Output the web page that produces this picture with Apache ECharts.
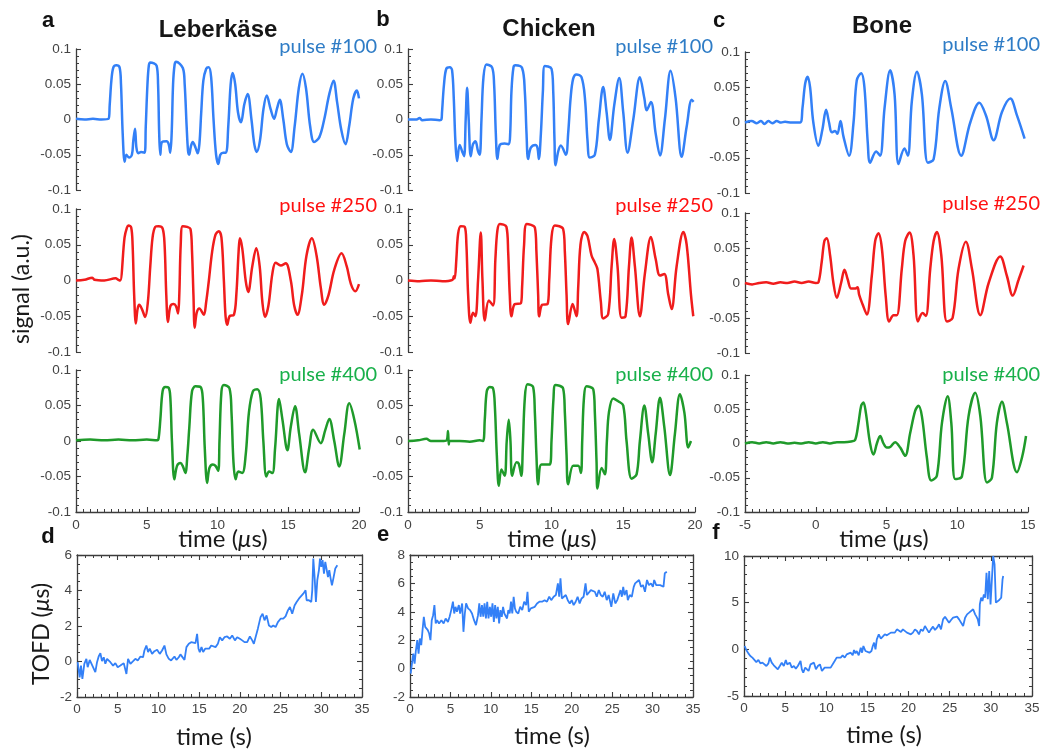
<!DOCTYPE html>
<html>
<head>
<meta charset="utf-8">
<title>Ultrasound pulse signals and TOFD</title>
<script src="https://cdn.jsdelivr.net/npm/echarts@6/dist/echarts.min.js"></script>
<style>
  html, body { margin: 0; padding: 0; background: #ffffff; }
  #chart { width: 1046px; height: 750px; }
</style>
</head>
<body>
<div id="chart"></div>
<script>
// ---------- tick labels ----------
const signalTicks = [-0.1, -0.05, 0, 0.05, 0.1];
const timeTicksMeat = [0, 5, 10, 15, 20];
const timeTicksBone = [-5, 0, 5, 10, 15];
const tofdTimeTicks = [0, 5, 10, 15, 20, 25, 30, 35];
const tofdTicksLeber = [-2, 0, 2, 4, 6];
const tofdTicksChicken = [-2, 0, 2, 4, 6, 8];
const tofdTicksBone = [-5, 0, 5, 10];

// ---------- categories ----------
const samples = ['Leberkäse', 'Chicken', 'Bone'];
const pulses = ['pulse #100', 'pulse #250', 'pulse #400'];
const panelLetters = ['a', 'b', 'c', 'd', 'e', 'f'];

// ---------- received signals: [time (µs), signal (a.u.)] ----------
const leber100 = [
  [0,0.001],[0.6,0],[1.2,0.001],[1.8,0],[2.3,0.001],
  [2.38,0.02],[2.5,0.055],[2.64,0.074],[2.85,0.077],[3.08,0.074],[3.18,0.05],[3.3,-0.02],[3.44,-0.06],[3.56,-0.05],[3.75,-0.054],[3.95,-0.05],[4.05,-0.03],[4.17,-0.013],[4.27,-0.04],[4.4,-0.048],[4.6,-0.046],[4.85,-0.047],
  [4.93,-0.01],[5.05,0.05],[5.15,0.077],[5.25,0.081],[5.7,0.076],[5.8,0.05],[5.88,-0.02],[5.96,-0.05],[6.08,-0.032],[6.4,-0.031],[6.55,-0.035],[6.66,-0.047],[6.76,-0.02],
  [6.86,0.05],[6.97,0.078],[7.07,0.082],[7.55,0.073],[7.68,0.05],[7.82,-0.01],[7.92,-0.045],[8.0,-0.05],[8.12,-0.038],[8.25,-0.032],[8.45,-0.04],[8.6,-0.048],[8.72,-0.035],
  [8.85,0.01],[9.0,0.055],[9.2,0.072],[9.38,0.074],[9.55,0.06],[9.72,0],[9.9,-0.05],[10.06,-0.063],[10.2,-0.05],[10.41,-0.047],[10.6,-0.047],
  [10.76,-0.01],[10.93,0.05],[11.07,0.066],[11.25,0.05],[11.45,0.01],[11.66,-0.004],[11.9,0.022],[12.13,0.036],[12.4,0],[12.6,-0.035],[12.77,-0.046],[13.0,-0.03],[13.25,0.015],[13.48,0.034],[13.75,0.015],[14.0,0.001],[14.2,0.015],[14.4,0.028],[14.65,0],[14.9,-0.035],[15.18,-0.046],[15.45,-0.01],[15.75,0.045],[16.0,0.065],[16.25,0.045],[16.55,-0.01],[16.83,-0.032],[17.2,-0.025],[17.54,0],[17.9,0.036],[18.2,0.055],[18.45,0.025],[18.75,-0.015],[19.05,-0.035],[19.3,-0.01],[19.6,0.03],[19.85,0.041],[20.0,0.03]
];
const leber250 = [
  [0,0],[0.6,0.001],[1.15,0.004],[1.3,0.001],[2.0,0],[2.8,0.003],[3.0,0.001],
  [3.12,0],[3.43,0.06],[3.6,0.074],[3.71,0.077],[3.9,0.074],[4.0,0.05],[4.11,-0.02],[4.23,-0.06],[4.35,-0.04],[4.47,-0.034],[4.66,-0.04],[4.89,-0.051],[5.08,-0.03],
  [5.25,0.02],[5.41,0.06],[5.6,0.075],[5.84,0.076],[6.12,0.073],[6.26,0.05],[6.38,-0.02],[6.5,-0.058],[6.67,-0.036],[6.9,-0.033],[7.07,-0.036],[7.21,-0.046],[7.3,-0.02],
  [7.4,0.05],[7.54,0.076],[7.85,0.075],[8.09,0.072],[8.2,0.04],[8.3,-0.02],[8.39,-0.066],[8.53,-0.045],[8.72,-0.039],[9.03,-0.048],[9.2,-0.03],
  [9.39,0],[9.62,0.04],[9.86,0.064],[10.09,0.069],[10.28,0.06],[10.45,0],[10.57,-0.05],[10.69,-0.062],[10.85,-0.05],[11.16,-0.048],[11.33,-0.02],
  [11.49,0.04],[11.58,0.059],[11.75,0.045],[11.99,0],[12.17,-0.016],[12.46,0.02],[12.74,0.045],[12.98,0.02],[13.17,-0.03],[13.36,-0.051],[13.6,-0.035],[13.88,0.01],[14.11,0.025],[14.47,0.021],[14.82,0.024],[15.18,0],[15.42,-0.035],[15.65,-0.048],[15.96,-0.02],[16.29,0.035],[16.67,0.059],[17.0,0.035],[17.3,-0.01],[17.54,-0.034],[17.85,-0.02],[18.25,0.015],[18.77,0.038],[19.13,0.02],[19.43,-0.005],[19.74,-0.015],[20.0,-0.005]
];
const leber400 = [
  [0,0.001],[1,0.002],[2,0.001],[3,0.002],[4,0.001],[5,0.002],[5.75,0.001],
  [5.84,0.004],[5.96,0.03],[6.12,0.07],[6.31,0.076],[6.55,0.075],[6.67,0.06],[6.78,0],[6.95,-0.054],[7.14,-0.035],[7.38,-0.031],[7.54,-0.035],[7.73,-0.045],[7.87,-0.02],
  [8.01,0.02],[8.2,0.07],[8.44,0.077],[8.8,0.076],[8.96,0.06],[9.1,-0.01],[9.27,-0.059],[9.43,-0.038],[9.67,-0.033],[9.86,-0.035],[10.05,-0.042],[10.14,0],
  [10.28,0.07],[10.45,0.079],[10.85,0.074],[10.99,0.04],[11.13,-0.03],[11.28,-0.054],[11.47,-0.043],[11.75,-0.045],[11.99,-0.02],
  [12.22,0.04],[12.5,0.07],[12.81,0.073],[13.05,0.06],[13.24,0],[13.45,-0.05],[13.64,-0.043],[13.88,-0.045],[14.07,-0.01],[14.35,0.059],[14.59,0.03],[14.94,-0.013],[15.18,0.02],[15.48,0.049],[15.77,0.01],[16.19,-0.044],[16.48,-0.01],[16.76,0.016],[17.3,-0.003],[17.61,0.015],[17.9,0.031],[18.25,0],[18.6,-0.036],[18.96,0.01],[19.31,0.053],[19.67,0.03],[20.05,-0.012]
];
const chicken100 = [
  [0,0],[0.6,0],[0.8,0.002],[1.0,-0.001],[1.6,0],[2.2,-0.001],[2.33,0],
  [2.37,0.01],[2.51,0.05],[2.67,0.072],[2.91,0.074],[3.07,0.07],[3.19,0.03],[3.3,-0.03],[3.42,-0.059],[3.6,-0.036],[3.77,-0.045],[3.91,-0.052],[4.02,0],[4.12,0.045],[4.23,0],[4.37,-0.052],[4.53,-0.035],[4.7,-0.031],[4.88,-0.045],[5.0,-0.05],
  [5.12,0],[5.26,0.06],[5.47,0.078],[5.86,0.074],[6.0,0.05],[6.12,-0.02],[6.23,-0.056],[6.4,-0.036],[6.74,-0.034],[7.02,-0.035],[7.12,-0.02],
  [7.21,0.04],[7.35,0.074],[7.49,0.077],[7.95,0.073],[8.14,0.04],[8.26,-0.02],[8.37,-0.056],[8.56,-0.04],[8.88,-0.036],[9.02,-0.04],[9.12,-0.056],[9.26,-0.02],
  [9.4,0.04],[9.53,0.076],[10.0,0.072],[10.12,0.04],[10.21,-0.03],[10.28,-0.065],[10.47,-0.045],[10.65,-0.037],[11.0,-0.05],[11.16,-0.02],
  [11.33,0.03],[11.51,0.058],[11.74,0.064],[12.09,0.06],[12.33,0.03],[12.51,-0.03],[12.67,-0.054],[13.02,-0.05],[13.3,0],[13.6,0.046],[13.84,0.01],[14.07,-0.029],[14.37,0.02],[14.72,0.059],[15.0,0.01],[15.3,-0.047],[15.7,0],[16.16,0.06],[16.47,0.03],[16.63,0.013],[16.93,0.025],[17.26,-0.02],[17.56,-0.051],[17.9,0],[18.3,0.069],[18.65,0.03],[19.07,-0.053],[19.42,-0.01],[19.77,0.028],[19.9,0.025]
];
const chicken250 = [
  [0,0],[0.8,-0.001],[1.6,0],[2.4,-0.001],[3.1,0.001],[3.2,0.006],
  [3.26,0.003],[3.37,0.03],[3.49,0.065],[3.67,0.076],[3.95,0.075],[4.07,0.05],[4.19,-0.02],[4.35,-0.059],[4.53,-0.045],[4.7,-0.05],[4.88,0],[5.07,0.067],[5.19,0],[5.35,-0.056],[5.63,-0.028],[5.93,-0.035],
  [6.09,0.03],[6.23,0.07],[6.4,0.079],[6.86,0.075],[6.98,0.04],[7.09,-0.02],[7.21,-0.05],[7.44,-0.033],[7.86,-0.032],[7.95,-0.01],
  [8.09,0.05],[8.28,0.079],[8.84,0.074],[8.95,0.04],[9.07,-0.02],[9.14,-0.05],[9.35,-0.034],[9.72,-0.033],[9.84,0],
  [10.0,0.06],[10.23,0.077],[10.81,0.072],[10.93,0.04],[11.05,-0.02],[11.16,-0.061],[11.47,-0.033],[11.74,-0.05],[11.86,-0.01],
  [12.02,0.05],[12.28,0.068],[12.51,0.062],[12.79,0.035],[13.02,0.025],[13.2,0.016],[13.44,-0.03],[13.6,-0.053],[13.95,-0.047],[14.19,0.02],[14.37,0.058],[14.6,0.02],[14.88,-0.052],[15.16,-0.05],[15.4,0.02],[15.58,0.06],[15.81,0.02],[16.16,-0.05],[16.51,0.01],[16.93,0.061],[17.26,0.03],[17.56,0.007],[17.86,0.009],[18.14,-0.02],[18.37,-0.04],[18.72,0.02],[19.19,0.068],[19.42,0.05],[19.72,-0.02],[19.88,-0.05]
];
const chicken400 = [
  [0,0],[0.7,0.001],[1.28,0.003],[1.6,0],[2.5,0],[2.7,0.001],[2.79,0.014],[2.84,-0.005],[2.9,0],[3.6,0],[4.3,-0.001],[5.0,0.001],[5.23,0],
  [5.35,0.03],[5.49,0.07],[5.7,0.076],[5.93,0.074],[6.05,0.05],[6.19,-0.02],[6.33,-0.063],[6.51,-0.04],[6.74,-0.049],[6.88,0],[7.02,0.03],[7.14,0],[7.26,-0.049],[7.56,-0.03],[7.72,-0.032],[7.9,-0.049],[8.0,-0.01],
  [8.14,0.06],[8.33,0.08],[8.72,0.076],[8.84,0.04],[8.95,-0.02],[9.07,-0.061],[9.3,-0.033],[9.88,-0.033],[10.0,0],
  [10.14,0.06],[10.28,0.079],[10.81,0.074],[10.93,0.04],[11.05,-0.02],[11.16,-0.061],[11.51,-0.035],[11.86,-0.035],[12.05,-0.045],[12.14,0],
  [12.26,0.06],[12.44,0.077],[12.91,0.073],[13.02,0.04],[13.14,-0.03],[13.2,-0.067],[13.49,-0.038],[13.72,-0.047],[13.86,0],
  [14.0,0.04],[14.3,0.06],[14.65,0.056],[15.0,0.05],[15.23,0],[15.58,-0.053],[15.93,-0.047],[16.16,0],[16.47,0.05],[16.74,0.01],[17.02,-0.03],[17.26,0.01],[17.56,0.061],[17.86,0.02],[18.26,-0.048],[18.6,0.01],[18.95,0.066],[19.26,0.04],[19.53,-0.009],[19.72,0]
];
const bone100 = [
  [-5,0],[-4.53,0.002],[-4.17,-0.001],[-3.87,0.002],[-3.63,-0.002],[-3.35,0.002],[-3.07,-0.001],[-2.76,0.002],[-2.45,0],[-2.17,0.001],[-1.7,0],[-1.11,0],
  [-0.94,0.02],[-0.75,0.055],[-0.57,0.065],[-0.4,0.05],[-0.17,0],[0.19,-0.033],[0.47,-0.01],[0.73,0.018],[0.94,0],[1.13,-0.014],[1.37,-0.012],[1.53,-0.016],[1.75,0.002],[1.96,-0.02],[2.36,-0.047],
  [2.67,0],[2.9,0.06],[3.21,0.07],[3.44,0.05],[3.68,-0.03],[3.84,-0.057],[4.27,-0.041],[4.55,-0.047],[4.86,0.02],[5.26,0.074],[5.57,0.04],[5.85,-0.059],[6.27,-0.037],[6.51,-0.047],[6.79,0.03],[7.15,0.072],[7.5,0.04],[7.92,-0.057],[8.33,-0.052],[8.73,0.02],[9.15,0.059],[9.58,0.02],[10.28,-0.047],[10.92,0],[11.56,0.028],[12.03,0.01],[12.57,-0.025],[13.16,0.015],[13.75,0.034],[14.22,0.01],[14.76,-0.023]
];
const bone250 = [
  [-5,0],[-4.5,-0.002],[-4,0],[-3.5,0.001],[-3,-0.001],[-2.5,0.001],[-2,0],[-1.5,0.002],[-1,0],[-0.5,0.002],[0,0],[0.19,0.001],
  [0.42,0.03],[0.61,0.06],[0.78,0.064],[1.01,0.04],[1.25,0],[1.49,-0.021],[1.79,0],[2.03,0.019],[2.26,0.005],[2.5,-0.008],[2.78,-0.008],[2.95,-0.006],[3.07,-0.017],[3.3,-0.03],[3.61,-0.045],
  [3.96,0.01],[4.2,0.06],[4.43,0.071],[4.67,0.05],[4.95,-0.02],[5.19,-0.055],[5.5,-0.046],[5.73,-0.046],[6.08,0.02],[6.32,0.06],[6.63,0.072],[6.91,0.04],[7.22,-0.055],[7.55,-0.043],[7.78,-0.047],[8.09,0.02],[8.33,0.06],[8.56,0.073],[8.87,0.04],[9.27,-0.055],[9.67,-0.05],[10.09,0.02],[10.61,0.059],[11.04,0.02],[11.63,-0.046],[12.22,0],[13.04,0.038],[13.51,0.01],[13.92,-0.018],[14.34,0.005],[14.69,0.025]
];
const bone400 = [
  [-5,0],[-4.5,0.002],[-4,0],[-3.5,0.002],[-3,0],[-2.5,0.002],[-2,0],[-1.5,0.001],[-1,0],[-0.5,0.002],[0,0],[0.5,0.002],[1,0],[1.5,0.002],[2,0.002],[2.5,0.003],[2.78,0.005],
  [3.02,0.03],[3.21,0.055],[3.37,0.06],[3.54,0.045],[3.84,0],[4.08,-0.016],[4.32,0],[4.55,0.011],[4.79,0],[5.02,-0.006],[5.26,-0.005],[5.61,0.002],[5.97,-0.006],[6.32,-0.018],[6.67,0.015],[7.03,0.048],[7.26,0.055],[7.5,0.04],[7.85,-0.02],[8.16,-0.054],[8.56,-0.047],[8.92,0.03],[9.32,0.069],[9.58,0.03],[9.86,-0.052],[10.33,-0.048],[10.8,0.04],[11.27,0.074],[11.63,0.04],[12.1,-0.057],[12.45,-0.05],[12.8,0.03],[13.16,0.061],[13.51,0.03],[14.22,-0.042],[14.58,-0.02],[14.86,0.011]
];

// ---------- time-of-flight difference: [time (s), TOFD (µs)] ----------
const tofdLeber = [
  [0.08,-0.04],[0.33,-0.89],[0.49,-0.23],[0.66,-0.98],[0.9,-0.13],[1.15,0.15],[1.31,-0.32],[1.56,0.09],[1.76,0.15],[1.97,-0.32],[2.25,-0.6],[2.46,-0.04],[2.66,0.28],[2.87,0.47],[3.07,0.02],[3.28,0.24],[3.48,-0.13],[3.69,0.15],[4.1,-0.04],[4.43,-0.23],[4.71,-0.09],[5.0,-0.32],[5.33,-0.23],[5.74,-0.09],[6.07,-0.7],[6.27,0.15],[6.56,-0.13],[6.89,0.02],[7.17,0.15],[7.46,0.06],[7.79,0.28],[8.11,0.24],[8.28,0.62],[8.52,0.9],[8.73,0.53],[8.93,0.72],[9.22,0.43],[9.51,0.58],[9.84,0.66],[10.16,0.43],[10.45,0.62],[10.74,0.9],[10.98,0.4],[11.27,0.15],[11.56,0.06],[11.8,-0.04],[11.97,0.28],[12.21,0.09],[12.5,0.24],[12.7,0.4],[12.91,0.34],[13.2,0.09],[13.44,0.81],[13.73,1.0],[14.02,1.09],[14.26,1.0],[14.55,1.04],[14.75,1.56],[14.92,0.72],[15.08,0.53],[15.29,0.81],[15.49,0.53],[15.74,0.72],[15.98,0.81],[16.23,0.72],[16.48,0.9],[16.72,1.0],[17.01,0.81],[17.3,1.0],[17.54,1.37],[17.83,1.19],[18.11,1.37],[18.44,1.41],[18.77,1.28],[19.06,1.47],[19.39,1.19],[19.67,1.37],[20.0,1.28],[20.29,1.19],[20.57,1.09],[20.9,1.09],[21.23,1.41],[21.52,1.19],[21.72,1.0],[21.93,1.37],[22.21,1.85],[22.54,2.5],[22.79,2.69],[23.03,2.32],[23.28,2.6],[23.57,2.03],[23.85,1.94],[24.1,2.03],[24.39,1.94],[24.67,2.22],[25.0,2.41],[25.33,2.41],[25.61,2.54],[25.9,2.88],[26.15,3.07],[26.43,2.69],[26.72,3.16],[26.97,3.35],[27.25,3.54],[27.46,3.45],[27.79,3.82],[28.07,4.01],[28.2,3.45],[28.48,3.45],[28.77,3.35],[28.89,4.01],[29.02,5.8],[29.18,4.76],[29.34,3.35],[29.51,4.58],[29.71,5.14],[29.84,5.8],[30.0,5.33],[30.16,5.71],[30.33,4.95],[30.49,5.61],[30.66,5.52],[30.82,4.76],[30.98,5.14],[31.15,4.67],[31.31,4.29],[31.48,4.67],[31.72,5.24],[31.97,5.42]
];
const tofdChicken = [
  [0.08,-0.35],[0.24,0.35],[0.41,1.06],[0.57,0.35],[0.73,1.29],[0.9,2.0],[1.06,1.06],[1.22,2.12],[1.39,1.65],[1.55,2.71],[1.71,3.65],[1.88,2.94],[2.04,3.06],[2.2,2.71],[2.37,2.47],[2.53,2.0],[2.69,3.41],[2.86,3.76],[3.02,4.47],[3.18,3.18],[3.35,3.41],[3.59,3.18],[3.88,3.41],[4.16,3.18],[4.41,3.53],[4.69,3.29],[4.9,3.65],[5.1,4.12],[5.31,4.71],[5.47,3.88],[5.63,4.35],[5.8,4.0],[6.04,4.47],[6.2,3.88],[6.45,4.59],[6.61,2.59],[6.78,3.88],[6.94,4.59],[7.18,4.24],[7.43,4.12],[7.67,3.88],[7.92,3.41],[8.16,3.06],[8.41,3.76],[8.57,4.59],[8.73,3.65],[8.9,4.47],[9.06,3.65],[9.22,4.59],[9.39,3.53],[9.55,4.71],[9.71,3.53],[9.88,4.35],[10.04,3.65],[10.2,4.59],[10.37,3.29],[10.53,4.47],[10.69,3.53],[10.86,4.35],[11.02,3.18],[11.18,4.12],[11.35,3.65],[11.51,4.35],[11.67,3.88],[11.84,4.0],[12.0,3.53],[12.16,4.12],[12.33,3.88],[12.49,4.71],[12.65,3.88],[12.82,5.06],[12.98,4.24],[13.14,4.0],[13.39,3.88],[13.63,4.35],[13.88,4.12],[14.12,4.71],[14.37,4.47],[14.53,5.41],[14.69,4.0],[14.94,4.24],[15.18,4.35],[15.43,4.35],[15.71,4.59],[16.0,4.71],[16.33,4.71],[16.65,4.82],[16.94,4.71],[17.22,5.06],[17.47,4.82],[17.76,5.06],[18.04,5.18],[18.29,6.0],[18.45,5.06],[18.61,6.35],[18.78,4.94],[19.02,4.94],[19.27,5.18],[19.51,4.82],[19.76,4.59],[20.0,4.82],[20.24,4.47],[20.49,4.71],[20.73,5.06],[20.98,4.59],[21.22,4.94],[21.47,5.06],[21.71,6.0],[21.88,5.18],[22.12,5.18],[22.37,5.53],[22.61,5.65],[22.86,5.41],[23.1,5.06],[23.35,5.53],[23.59,5.18],[23.84,5.06],[24.08,5.41],[24.33,4.82],[24.57,5.18],[24.9,4.35],[25.14,5.29],[25.39,4.59],[25.63,4.82],[25.8,4.71],[26.04,5.53],[26.2,5.06],[26.37,5.76],[26.53,5.18],[26.78,5.53],[26.94,4.82],[27.18,5.18],[27.43,5.06],[27.67,5.76],[27.84,6.0],[28.08,6.0],[28.33,6.24],[28.57,5.76],[28.82,5.88],[29.06,5.41],[29.31,6.24],[29.55,5.88],[29.8,6.0],[30.04,5.76],[30.2,6.24],[30.45,5.88],[30.69,5.76],[30.94,5.88],[31.18,5.76],[31.35,5.76],[31.51,6.71],[31.76,6.82]
];
const tofdBone = [
  [0.08,0.36],[0.28,-0.07],[0.53,-0.43],[0.77,-0.71],[1.02,-0.89],[1.26,-1.07],[1.5,-1.36],[1.75,-1.14],[1.99,-1.5],[2.24,-1.43],[2.48,-1.61],[2.72,-1.79],[2.97,-1.5],[3.13,-0.89],[3.37,-1.43],[3.62,-1.71],[3.86,-1.86],[4.11,-2.14],[4.35,-1.79],[4.59,-1.43],[4.84,-1.79],[5.08,-1.14],[5.24,-1.61],[5.41,-1.79],[5.57,-1.43],[5.81,-1.96],[6.06,-1.79],[6.3,-2.07],[6.54,-1.79],[6.71,-1.61],[6.87,-1.25],[7.03,-2.14],[7.2,-2.5],[7.44,-1.96],[7.68,-1.79],[7.85,-2.32],[8.09,-1.61],[8.25,-1.79],[8.5,-1.43],[8.74,-2.14],[8.98,-1.79],[9.23,-1.61],[9.47,-2.32],[9.63,-2.5],[9.8,-1.96],[10.04,-2.07],[10.28,-1.96],[10.53,-1.96],[10.77,-1.79],[11.02,-1.25],[11.26,-0.89],[11.5,-1.0],[11.75,-0.89],[11.99,-0.64],[12.24,-0.89],[12.48,-0.54],[12.72,-0.71],[12.97,-0.36],[13.21,-0.64],[13.37,-0.07],[13.54,-0.43],[13.7,-0.18],[13.94,-0.64],[14.19,0.18],[14.35,-0.36],[14.51,0.36],[14.76,-0.18],[15.0,0],[15.24,-0.36],[15.49,-0.18],[15.65,0.36],[15.81,0.71],[15.98,0],[16.14,1.07],[16.38,1.61],[16.63,1.14],[16.87,1.25],[17.11,1.61],[17.36,1.5],[17.6,1.61],[17.85,1.79],[18.09,1.96],[18.33,1.79],[18.58,2.14],[18.82,1.96],[19.07,1.86],[19.31,2.14],[19.55,2.21],[19.8,1.79],[20.04,1.96],[20.28,1.61],[20.53,1.79],[20.77,2.14],[21.02,1.96],[21.26,1.61],[21.5,2.14],[21.75,1.96],[21.99,2.5],[22.24,2.14],[22.48,1.79],[22.72,2.14],[22.97,2.43],[23.21,2.07],[23.46,2.32],[23.7,2.68],[23.94,2.14],[24.19,3.21],[24.43,3.5],[24.67,3.29],[24.92,2.86],[25.16,3.14],[25.41,3.39],[25.65,3.21],[25.89,3.5],[26.14,3.21],[26.38,3.04],[26.63,2.5],[26.87,3.39],[27.11,3.75],[27.36,3.93],[27.6,4.11],[27.85,4.29],[28.09,3.75],[28.25,3.5],[28.41,3.21],[28.58,2.5],[28.66,4.82],[28.82,5.54],[28.98,5.18],[29.15,5.89],[29.31,5.54],[29.47,8.21],[29.63,5.36],[29.8,8.39],[29.96,4.82],[30.12,5.0],[30.28,10.0],[30.45,9.11],[30.61,5.0],[30.77,5.18],[31.02,5.29],[31.26,5.54],[31.42,7.5],[31.5,7.86]
];

// ---------- layout ----------
const chart = echarts.init(document.getElementById('chart'), null, { renderer: 'canvas' });

const AXIS_COLOR = '#3c3c3c';
const LABEL_COLOR = '#444444';
const NUM_FONT = "'Liberation Sans', Arial, sans-serif";
const TEXT_FONT = "Lato, 'Open Sans', sans-serif";
const lineColors = ['#3380f7', '#f01c1c', '#1f9a2a'];
const pulseColors = ['#2e7cc6', '#ff1010', '#18b04a'];

const sigCols = [
  { left: 76, width: 283 },
  { left: 408, width: 287 },
  { left: 745, width: 283 }
];
const sigRowsMeat = [
  { top: 49, height: 141 },
  { top: 209, height: 143 },
  { top: 370, height: 142 }
];
const sigRowsBone = [
  { top: 52, height: 141 },
  { top: 213, height: 140 },
  { top: 375, height: 137 }
];
const tofdGrids = [
  { left: 77, top: 555, width: 285, height: 142 },
  { left: 410, top: 555, width: 283, height: 142 },
  { left: 744, top: 556, width: 288, height: 140 }
];

const waves = [
  [leber100, leber250, leber400],
  [chicken100, chicken250, chicken400],
  [bone100, bone250, bone400]
];
const timeTicks = [timeTicksMeat, timeTicksMeat, timeTicksBone];
const tofdSeries = [tofdLeber, tofdChicken, tofdBone];
const tofdTicks = [tofdTicksLeber, tofdTicksChicken, tofdTicksBone];
const tofdMinorY = [4, 4, 5];

function range(ticks) {
  return { min: ticks[0], max: ticks[ticks.length - 1], interval: ticks[1] - ticks[0] };
}

function axisBase(showLabels, minorSplit) {
  return {
    type: 'value',
    axisLine: { show: true, onZero: false, lineStyle: { color: AXIS_COLOR, width: 1.3 } },
    axisTick: { show: true, inside: true, length: 5, lineStyle: { color: AXIS_COLOR, width: 1.1 } },
    minorTick: { show: true, splitNumber: minorSplit, length: 3, lineStyle: { color: AXIS_COLOR, width: 1 } },
    axisLabel: { show: showLabels, margin: 5, fontSize: 13.5, color: LABEL_COLOR, fontFamily: NUM_FONT },
    splitLine: { show: false },
    minorSplitLine: { show: false }
  };
}

const grids = [], xAxes = [], yAxes = [], series = [];

// signal panels a–c
for (let c = 0; c < 3; c++) {
  const rows = c === 2 ? sigRowsBone : sigRowsMeat;
  for (let r = 0; r < 3; r++) {
    const gi = grids.length;
    grids.push({ left: sigCols[c].left, width: sigCols[c].width, top: rows[r].top, height: rows[r].height });
    const xa = Object.assign(axisBase(true, 10), range(timeTicks[c]), { gridIndex: gi, position: 'bottom', show: r === 2 });
    xa.axisLabel.margin = 6;
    xAxes.push(xa);
    yAxes.push(Object.assign(axisBase(true, 5), range(signalTicks), { gridIndex: gi, position: 'left' }));
    series.push({
      type: 'line',
      name: samples[c] + ' ' + pulses[r],
      xAxisIndex: xAxes.length - 1,
      yAxisIndex: yAxes.length - 1,
      data: waves[c][r],
      showSymbol: false,
      smooth: 0.35,
      lineStyle: { width: 2.5, color: lineColors[r] },
      silent: true
    });
  }
}

// TOFD panels d–f (boxed)
for (let c = 0; c < 3; c++) {
  const gi = grids.length;
  grids.push(tofdGrids[c]);
  const xb = Object.assign(axisBase(true, 5), range(tofdTimeTicks), { gridIndex: gi, position: 'bottom' });
  xb.axisLabel.margin = 5;
  xAxes.push(xb);
  const xIdx = xAxes.length - 1;
  xAxes.push(Object.assign(axisBase(false, 5), range(tofdTimeTicks), { gridIndex: gi, position: 'top' }));
  yAxes.push(Object.assign(axisBase(true, tofdMinorY[c]), range(tofdTicks[c]), { gridIndex: gi, position: 'left' }));
  const yIdx = yAxes.length - 1;
  yAxes.push(Object.assign(axisBase(false, tofdMinorY[c]), range(tofdTicks[c]), { gridIndex: gi, position: 'right' }));
  series.push({
    type: 'line',
    name: 'TOFD ' + samples[c],
    xAxisIndex: xIdx,
    yAxisIndex: yIdx,
    data: tofdSeries[c],
    showSymbol: false,
    lineStyle: { width: 1.8, color: lineColors[0] },
    silent: true
  });
}

// ---------- text ----------
function label(x, y, text, size, color, opts) {
  opts = opts || {};
  return {
    type: 'text', x: x, y: y, rotation: opts.rotation || 0, silent: true, z: 10,
    style: {
      text: text,
      fontSize: size,
      fontWeight: opts.bold ? 'bold' : 'normal',
      fontFamily: opts.family || TEXT_FONT,
      fill: color,
      align: opts.align || 'center',
      verticalAlign: 'middle',
      rich: opts.rich
    }
  };
}
function muRich(size) {
  return { m: { fontSize: size, fontFamily: TEXT_FONT, fontStyle: 'italic', fill: '#1a1a1a' } };
}

const graphics = [];
// sample titles
graphics.push(label(218, 30, samples[0], 24, '#161616', { bold: true, family: NUM_FONT }));
graphics.push(label(549, 29, samples[1], 24, '#161616', { bold: true, family: NUM_FONT }));
graphics.push(label(882, 26, samples[2], 24, '#161616', { bold: true, family: NUM_FONT }));
// panel letters
const letterPos = [[48, 21], [383, 20], [719, 21], [48, 537], [383, 535], [716, 533]];
letterPos.forEach((p, i) => graphics.push(label(p[0], p[1], panelLetters[i], 22, '#111', { bold: true, family: NUM_FONT })));
// pulse tags
const tagRight = [377, 713, 1040];
const tagY = [[47, 206, 375], [47, 206, 375], [45, 204, 375]];
for (let c = 0; c < 3; c++) {
  for (let r = 0; r < 3; r++) {
    graphics.push(label(tagRight[c], tagY[c][r], pulses[r], 20, pulseColors[r], { align: 'right' }));
  }
}
// axis titles
graphics.push(label(22, 289, 'signal (a.u.)', 23, '#1a1a1a', { rotation: Math.PI / 2 }));
graphics.push(label(42, 634, 'TOFD ({m|μ}s)', 23, '#1a1a1a', { rotation: Math.PI / 2, rich: muRich(23) }));
[223, 552, 884].forEach(x => graphics.push(label(x, 539, 'time ({m|μ}s)', 24, '#1a1a1a', { rich: muRich(24) })));
[[214, 737], [552, 736], [884, 735]].forEach(p => graphics.push(label(p[0], p[1], 'time (s)', 24, '#1a1a1a')));

chart.setOption({
  backgroundColor: '#ffffff',
  animation: false,
  grid: grids,
  xAxis: xAxes,
  yAxis: yAxes,
  series: series,
  graphic: graphics
});
</script>
</body>
</html>
